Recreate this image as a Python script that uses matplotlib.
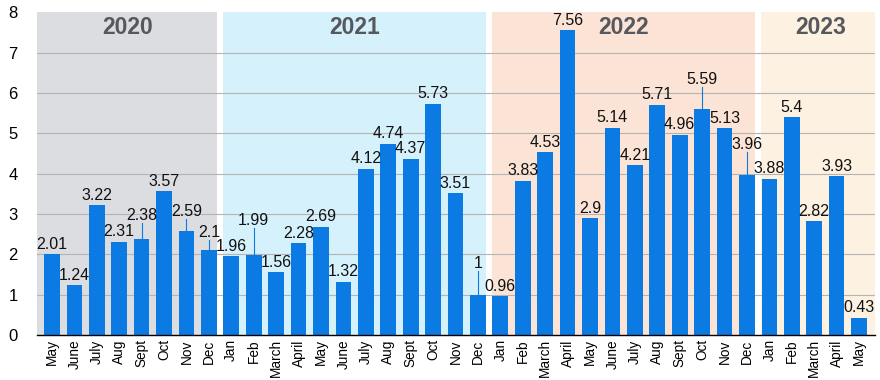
import matplotlib
matplotlib.use("Agg")
from matplotlib import pyplot as plt
import numpy as np

plt.rcParams['font.family'] = ['Liberation Sans Narrow', 'Liberation Sans', 'DejaVu Sans']

months = ["May", "June", "July", "Aug", "Sept", "Oct", "Nov", "Dec",
          "Jan", "Feb", "March", "April", "May", "June", "July", "Aug", "Sept", "Oct", "Nov", "Dec",
          "Jan", "Feb", "March", "April", "May", "June", "July", "Aug", "Sept", "Oct", "Nov", "Dec",
          "Jan", "Feb", "March", "April", "May"]
values = [2.01, 1.24, 3.22, 2.31, 2.38, 3.57, 2.59, 2.1,
          1.96, 1.99, 1.56, 2.28, 2.69, 1.32, 4.12, 4.74, 4.37, 5.73, 3.51, 1,
          0.96, 3.83, 4.53, 7.56, 2.9, 5.14, 4.21, 5.71, 4.96, 5.59, 5.13, 3.96,
          3.88, 5.4, 2.82, 3.93, 0.43]
labels = ["2.01", "1.24", "3.22", "2.31", "2.38", "3.57", "2.59", "2.1",
          "1.96", "1.99", "1.56", "2.28", "2.69", "1.32", "4.12", "4.74", "4.37", "5.73", "3.51", "1",
          "0.96", "3.83", "4.53", "7.56", "2.9", "5.14", "4.21", "5.71", "4.96", "5.59", "5.13", "3.96",
          "3.88", "5.4", "2.82", "3.93", "0.43"]
years = ["2020", "2021", "2022", "2023"]
year_counts = [8, 12, 12, 5]
band_colors = ["#dcdde1", "#d5f1fc", "#fbe4d5", "#fdf2e2"]

# labels lifted off the bar with a leader line (index -> label bottom)
leaders = {4: 2.78, 6: 2.88, 7: 2.35, 9: 2.65, 19: 1.6, 29: 6.14, 31: 4.53}

blue = "#0b7be3"
x = np.arange(len(values))

fig = plt.figure(figsize=(8.8, 3.8), dpi=100)
ax = fig.add_axes([0.042, 0.118, 0.952, 0.85])
ax.set_xlim(-0.67, len(values) - 0.3)
ax.set_ylim(0, 8)

# year bands
start = -0.67
edge = -0.5
for i, (yr, n) in enumerate(zip(years, year_counts)):
    end = edge + n
    lo = start if i == 0 else edge + 0.12
    hi = end - 0.12 if i < len(years) - 1 else len(values)
    ax.axvspan(lo, hi, color=band_colors[i], zorder=0, lw=0)
    ax.text((lo + hi) / 2, 7.62, yr, ha='center', va='center', fontsize=16.5,
            fontweight='bold', color='#55585d', family=['Liberation Sans', 'DejaVu Sans'], zorder=3)
    edge = end

for yv in range(1, 8):
    ax.axhline(yv, color='#b4b4b4', lw=0.8, zorder=1)

ax.bar(x, values, width=0.7, color=blue, zorder=2)

for i, (v, t) in enumerate(zip(values, labels)):
    if i in leaders:
        ly = leaders[i]
        ax.plot([i, i], [v, ly], color=blue, lw=0.8, zorder=2)
        ax.text(i, ly, t, ha='center', va='bottom', fontsize=11.5, color='#111111', zorder=3)
    else:
        ax.text(i, v + 0.06, t, ha='center', va='bottom', fontsize=11.5, color='#111111', zorder=3)

ax.set_xticks(x)
ax.set_xticklabels(months, rotation=90, fontsize=9.8, family=['Liberation Sans', 'DejaVu Sans'])
ax.set_yticks(range(0, 9))
ax.set_yticklabels([str(v) for v in range(0, 9)], fontsize=12, family=['Liberation Sans', 'DejaVu Sans'])
ax.tick_params(axis='both', length=0)
ax.tick_params(axis='y', pad=14)
ax.tick_params(axis='x', pad=3)
for s in ['top', 'right', 'left']:
    ax.spines[s].set_visible(False)
ax.spines['bottom'].set_color('black')
ax.spines['bottom'].set_linewidth(1.0)
ax.spines['bottom'].set_zorder(4)

fig.savefig("out.png", dpi=100)
